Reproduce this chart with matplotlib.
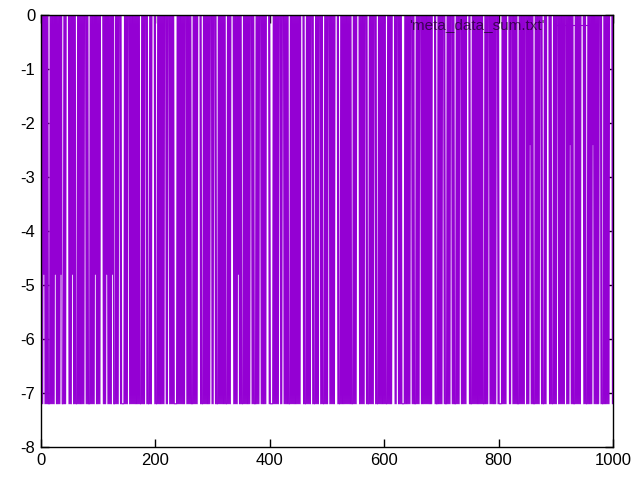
import numpy as np
import matplotlib
matplotlib.use("Agg")
import matplotlib.pyplot as plt
from matplotlib.lines import Line2D

# level codes: '0' -> 0, '2' -> -2.4, '4' -> -4.8, '7' -> -7.2
code_blocks = [
    "0707040707", "0707770707", "0707040707", "0707040777", "0707000007",
    "0707040707", "0777070707", "0707070007", "0707770707", "0707040707",
    "0707000007", "0707040707", "0707040777", "0707070007", "0777770707",
    "0700070707", "0707070707", "0707770707", "0700070777", "0707000007",
    "0777070707", "0707070007", "0700070707", "0707777707", "0707070707",
    "0700070707", "0707770707", "0707000007", "0777070707", "0707070007",
    "0700070777", "0707070707", "0707770707", "0700000707", "0707040707",
    "0777070707", "0707070007", "0707770707", "0700070707", "0707000007",
    "0777770707", "0707070007", "0700070707", "0707770707", "0707070707",
    "0707000007", "0777070707", "0700070777", "0707070007", "0707770707",
    "0700070707", "0707000007", "0777070707", "0707070707", "0707770707",
    "0700000707", "0707070007", "0777070707", "0700070777", "0707070707",
    "0707770707", "0707000007", "0700070707", "0777770707", "0707070007",
    "0707770707", "0700070707", "0707070707", "0707000007", "0777070707",
    "0700070777", "0707070007", "0707770707", "0700070707", "0707000007",
    "0777070707", "0707070707", "0707770707", "0700070707", "0707070007",
    "0777770707", "0707000007", "0700070707", "0707770707", "0707070007",
    "0707020707", "0777070707", "0700070777", "0707000007", "0707770707",
    "0700070707", "0707070007", "0707020707", "0777070707", "0707000007",
    "0707770707", "0707020707", "0707070007", "0777070707", "0707000007",
    "0",
]
level_values = {"0": 0.0, "2": -2.4, "4": -4.8, "7": -7.2}
series_name = "'meta_data_sum.txt'"

x_ticks = [0, 200, 400, 600, 800, 1000]
y_ticks = [0, -1, -2, -3, -4, -5, -6, -7, -8]

codes = "".join(code_blocks)
values = np.array([level_values[c] for c in codes])
xs = np.linspace(0, 1000, len(values))

plt.rcParams['font.family'] = ['Liberation Sans', 'DejaVu Sans']
fig = plt.figure(figsize=(6.4, 4.8), dpi=100)
ax = fig.add_axes([41/640, 33/480, 572/640, 432/480])
ax.plot(xs, values, color='#9400D3', linewidth=0.8, zorder=2)
ax.set_xlim(0, 1000)
ax.set_ylim(-8, 0)
ax.set_xticks(x_ticks)
ax.set_yticks(y_ticks)
ax.set_yticklabels([str(v) for v in y_ticks])
ax.tick_params(direction='in', length=6, width=1, top=True, right=True,
               labelsize=12, colors='black', pad=4)
for s in ax.spines.values():
    s.set_linewidth(1)
    s.set_zorder(5)

# key in gnuplot style
ax.text((545-41)/572, 1 - 10/432, series_name, transform=ax.transAxes,
        ha='right', va='center', fontsize=11, color='black', alpha=0.6, zorder=3)
ax.add_line(Line2D([(555-41)/572, (597-41)/572], [1 - 10/432, 1 - 10/432],
                   transform=ax.transAxes, color='#9400D3', linewidth=0.8, zorder=3))

fig.savefig('out.png', dpi=100)
